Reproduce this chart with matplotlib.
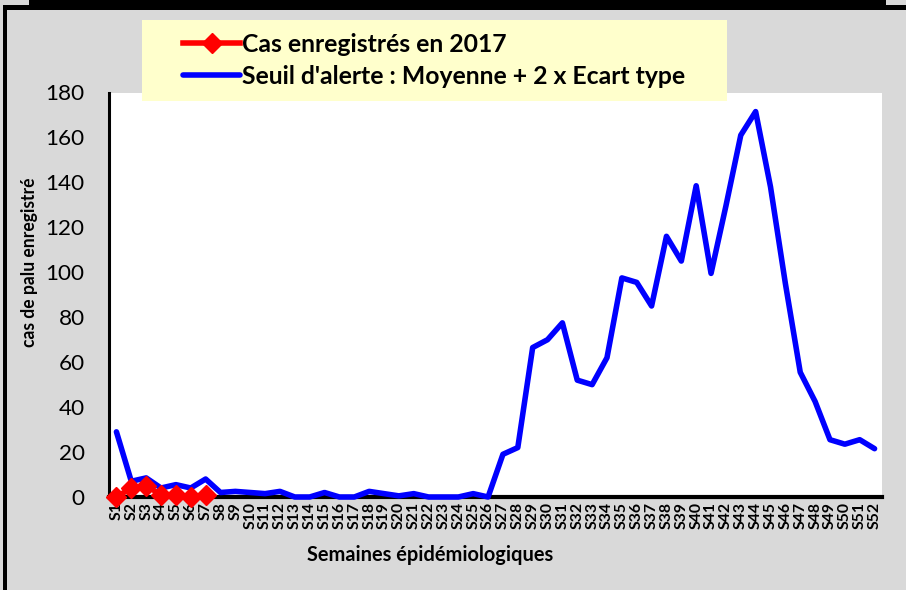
import matplotlib
matplotlib.use("Agg")
import matplotlib.pyplot as plt
from matplotlib.patches import Rectangle

# ---------------- data ----------------
weeks = [f"S{i}" for i in range(1, 53)]
seuil = [29, 7, 8.5, 4, 5.5, 4, 8, 2, 2.5, 2, 1.5, 2.5, 0, 0, 2, 0, 0, 2.5,
         1.5, 0.5, 1.5, 0, 0, 0, 1.5, 0, 19, 22, 66.5, 70, 77.5, 52, 50, 62,
         97.5, 95.5, 85, 116, 105, 138.5, 99.5, 129.5, 161, 171.5, 138, 95,
         55.5, 42.5, 25.5, 23.5, 25.5, 21.5]
cas_2017 = [0, 4, 5, 1, 1, 0, 1]
yticks = [0, 20, 40, 60, 80, 100, 120, 140, 160, 180]
label_cas = "Cas enregistrés en 2017"
label_seuil = "Seuil d'alerte : Moyenne + 2 x Ecart type"
xlabel = "Semaines épidémiologiques"
ylabel = "cas de palu enregistré"

FONT = "Lato"
W, H = 906, 590
BG = "#D9D9D9"

fig = plt.figure(figsize=(W / 100, H / 100), dpi=100, facecolor=BG)
fig.canvas.draw()
renderer = fig.canvas.get_renderer()


def fx(px):
    return px / W


def fy(py):
    return 1 - py / H


def fit(text, weight, target, base=10):
    t = fig.text(0, 0, text, fontsize=base, fontweight=weight, family=FONT)
    w = t.get_window_extent(renderer).width
    t.remove()
    return base * target / w


fs_ytick = fit("180", "normal", 39)
fs_xtick = fit("S52", "bold", 27)
fs_leg = fit(label_seuil, "bold", 447)
fs_xlabel = fit(xlabel, "bold", 247)
fs_ylabel = fit(ylabel, "bold", 170)

# ---------------- frame decorations ----------------
fig.add_artist(Rectangle((fx(3), fy(10)), (W - 3) / W, 5 / H,
                         transform=fig.transFigure, facecolor="black",
                         edgecolor="none", zorder=1))
fig.add_artist(Rectangle((fx(29), fy(10)), (886 - 29) / W, 10 / H,
                         transform=fig.transFigure, facecolor="black",
                         edgecolor="none", zorder=1))
fig.add_artist(Rectangle((fx(3), 0), 4 / W, (H - 6) / H,
                         transform=fig.transFigure, facecolor="black",
                         edgecolor="none", zorder=1))

# ---------------- axes ----------------
ax = fig.add_axes([fx(109), fy(497), (882 - 109) / W, (497 - 92.5) / H])
ax.set_facecolor("white")
x = list(range(len(weeks)))
ax.plot(x, seuil, color="#0000FF", lw=4.0, solid_joinstyle="round",
        solid_capstyle="round", clip_on=False, zorder=4, label=label_seuil)
ax.plot(list(range(len(cas_2017))), cas_2017, color="#FF0000", lw=4.0,
        marker="D", ms=10, mec="#FF0000", mfc="#FF0000",
        solid_joinstyle="round", clip_on=False, zorder=5, label=label_cas)

ax.set_xlim(-0.5, len(weeks) - 0.5)
ax.set_ylim(0, 180)
ax.set_xticks(x)
ax.set_xticklabels(weeks, rotation=90, fontweight="bold", fontsize=fs_xtick,
                   family=FONT)
ax.set_yticks(yticks)
ax.set_yticklabels([str(v) for v in yticks], fontsize=fs_ytick, family=FONT)
ax.tick_params(axis="x", length=0, pad=3.5)
ax.tick_params(axis="y", length=0, pad=17.5)
for s in ("top", "right"):
    ax.spines[s].set_visible(False)
ax.spines["left"].set_linewidth(2.2)
ax.spines["bottom"].set_linewidth(3.0)
ax.spines["left"].set_color("black")
ax.spines["bottom"].set_color("black")

fig.text(fx(430), fy(555), xlabel, fontsize=fs_xlabel, fontweight="bold",
         family=FONT, ha="center", va="center")
fig.text(fx(30), fy(262), ylabel, fontsize=fs_ylabel, fontweight="bold",
         family=FONT, ha="center", va="center", rotation=90)

# ---------------- legend ----------------
fig.add_artist(Rectangle((fx(142), fy(101)), (727 - 142) / W, (101 - 20) / H,
                         transform=fig.transFigure, facecolor="#FFFFCC",
                         edgecolor="none", zorder=1))
fs_px = fs_leg * 100 / 72
handles, labels = ax.get_legend_handles_labels()
leg = fig.legend(handles[::-1], labels[::-1], loc="center left",
                 bbox_to_anchor=(fx(183), fy(60.5)),
                 frameon=False, borderpad=0, borderaxespad=0,
                 handlelength=57 / fs_px, handletextpad=2 / fs_px,
                 labelspacing=(39 - 1.2 * fs_px) / fs_px, numpoints=1,
                 prop={"family": FONT, "weight": "bold", "size": fs_leg})
leg.set_zorder(6)

fig.savefig("out.png", dpi=100, facecolor=BG)
